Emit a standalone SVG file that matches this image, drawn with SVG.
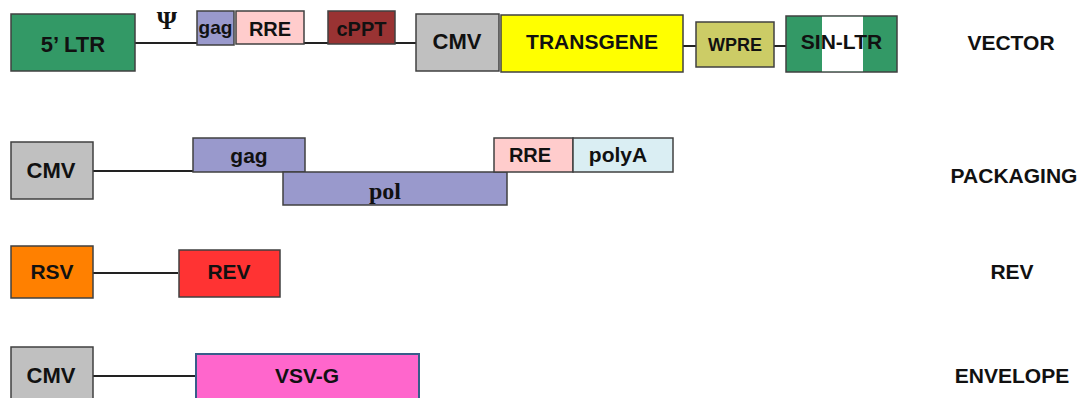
<svg xmlns="http://www.w3.org/2000/svg" width="1083" height="398" viewBox="0 0 1083 398">
<style>
.b{stroke:#404040;stroke-width:1.5}
.t{font-family:"Liberation Sans",Arial,sans-serif;font-weight:bold;fill:#111;text-anchor:middle}
.s{font-family:"Liberation Serif","Times New Roman",serif;font-weight:bold;fill:#111;text-anchor:middle}
.c{stroke:#222;stroke-width:2;fill:none}
</style>
<rect width="1083" height="398" fill="#fff"/>
<g id="connectors">
<line class="c" x1="135" y1="43" x2="197" y2="43"/>
<line class="c" x1="304" y1="43" x2="328" y2="43"/>
<line class="c" x1="395" y1="43" x2="416" y2="43"/>
<line class="c" x1="683" y1="46" x2="696" y2="46"/>
<line class="c" x1="774" y1="46" x2="786" y2="46"/>
<line class="c" x1="93" y1="171" x2="193" y2="171"/>
<line class="c" x1="93" y1="273" x2="178" y2="273"/>
<line class="c" x1="93" y1="376" x2="196" y2="376"/>
</g>
<g id="ltr5"><rect class="b" x="11" y="14" width="124" height="57" fill="#339966"/><text class="t" x="73" y="52" font-size="22">5’ LTR</text></g>
<g id="psi"><text class="s" x="167" y="29" font-size="26">Ψ</text></g>
<g id="gag1"><rect class="b" x="197" y="11" width="37" height="34" fill="#9999CC"/><text class="t" x="215.5" y="34" font-size="19">gag</text></g>
<g id="rre1"><rect class="b" x="236" y="11" width="68" height="33" fill="#FFCCCC"/><text class="t" x="270" y="36" font-size="20">RRE</text></g>
<g id="cppt"><rect class="b" x="328" y="11" width="67" height="33" fill="#993333"/><text class="t" x="361.5" y="36" font-size="20">cPPT</text></g>
<g id="cmv1"><rect class="b" x="416" y="14" width="83" height="57" fill="#C0C0C0"/><text class="t" x="457" y="49" font-size="22">CMV</text></g>
<g id="transgene"><rect class="b" x="501" y="15" width="182" height="57" fill="#FFFF00"/><text class="t" x="592" y="49" font-size="21">TRANSGENE</text></g>
<g id="wpre"><rect class="b" x="696" y="22" width="78" height="45" fill="#CCCC66"/><text class="t" x="735" y="51" font-size="18">WPRE</text></g>
<g id="sinltr"><rect class="b" x="786" y="16" width="111" height="56" fill="#339966"/><rect x="822" y="16.75" width="41" height="54.5" fill="#fff"/><text class="t" x="841.5" y="49" font-size="21">SIN-LTR</text></g>
<g id="lbl-vector"><text class="t" x="1011" y="50" font-size="21">VECTOR</text></g>

<g id="cmv2"><rect class="b" x="11" y="142" width="82" height="57" fill="#C0C0C0"/><text class="t" x="51" y="178" font-size="22">CMV</text></g>
<g id="gag2"><rect class="b" x="193" y="138" width="112" height="34" fill="#9999CC"/><text class="t" x="249" y="163" font-size="21">gag</text></g>
<g id="pol"><rect class="b" x="283" y="172" width="224" height="33" fill="#9999CC"/><text class="s" x="385" y="199" font-size="24">pol</text></g>
<g id="rre2"><rect class="b" x="494" y="138" width="79" height="34" fill="#FFCCCC"/><text class="t" x="530" y="162" font-size="20">RRE</text></g>
<g id="polya"><rect class="b" x="573" y="138" width="100" height="34" fill="#DAEEF3"/><text class="t" x="618" y="162" font-size="21">polyA</text></g>
<g id="lbl-packaging"><text class="t" x="1014" y="183" font-size="21">PACKAGING</text></g>

<g id="rsv"><rect class="b" x="11" y="246" width="82" height="52" fill="#FF8000"/><text class="t" x="52" y="279" font-size="21">RSV</text></g>
<g id="rev"><rect class="b" x="179" y="250" width="101" height="47" fill="#FF3333"/><text class="t" x="229" y="279" font-size="21">REV</text></g>
<g id="lbl-rev"><text class="t" x="1012" y="279" font-size="21">REV</text></g>

<g id="cmv4"><rect class="b" x="11" y="347" width="82" height="60" fill="#C0C0C0"/><text class="t" x="51" y="383" font-size="22">CMV</text></g>
<g id="vsvg"><rect x="196" y="354" width="223" height="53" fill="#FF66CC" stroke="#385D8A" stroke-width="2"/><text class="t" x="307" y="383" font-size="21">VSV-G</text></g>
<g id="lbl-envelope"><text class="t" x="1012" y="383" font-size="21">ENVELOPE</text></g>
</svg>
